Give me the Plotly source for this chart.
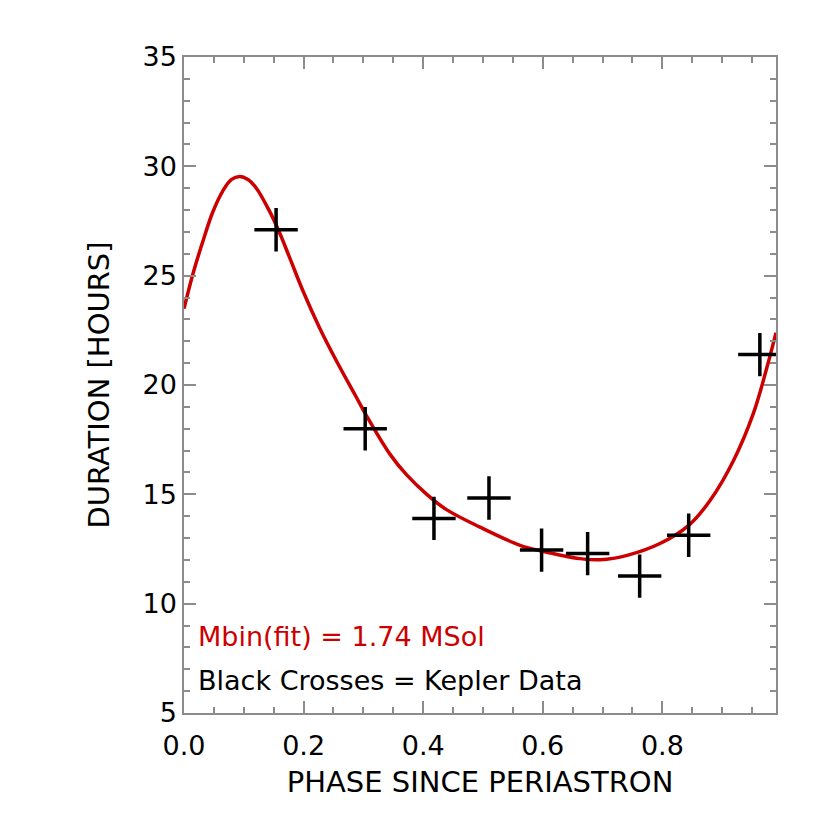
import plotly.graph_objects as go

# Kepler data points (black crosses)
phase_obs = [0.154, 0.303, 0.418, 0.510, 0.598, 0.675, 0.762, 0.844, 0.963]
dur_obs = [27.10, 18.00, 13.90, 14.83, 12.45, 12.29, 11.26, 13.13, 21.39]

# fitted curve
phase_fit = [0.000, 0.015, 0.032, 0.048, 0.065, 0.079, 0.093, 0.107, 0.121,
             0.143, 0.160, 0.177, 0.199, 0.227, 0.255, 0.288, 0.305, 0.344,
             0.372, 0.406, 0.439, 0.495, 0.562, 0.598, 0.662, 0.696, 0.741,
             0.796, 0.844, 0.880, 0.919, 0.952, 0.975, 0.990]
dur_fit = [23.49, 25.09, 26.61, 27.90, 28.88, 29.39, 29.54, 29.40, 29.00,
           27.95, 26.95, 25.80, 24.30, 22.60, 21.10, 19.45, 18.60, 16.85,
           15.90, 15.00, 14.30, 13.50, 12.67, 12.41, 12.06, 12.01, 12.21,
           12.75, 13.58, 14.73, 16.55, 18.69, 20.82, 22.39]

fit_label = "Mbin(fit) = 1.74 MSol"
data_label = "Black Crosses = Kepler Data"

RED = "#cc0000"
GREY = "#8c8c8c"
FONT = "DejaVu Sans"

fig = go.Figure()
fig.add_trace(go.Scatter(x=phase_fit, y=dur_fit, mode="lines",
                         line=dict(color=RED, width=3.5, shape="spline",
                                   smoothing=1),
                         hoverinfo="skip"))
fig.add_trace(go.Scatter(x=phase_obs, y=dur_obs, mode="markers",
                         marker=dict(symbol="cross-thin-open", size=31,
                                     color="black",
                                     line=dict(color="black", width=3.5))))

axis_common = dict(showgrid=False, zeroline=False, showline=True,
                   linecolor=GREY, linewidth=1.5, mirror="ticks",
                   ticks="inside", tickcolor=GREY, tickwidth=1.5,
                   ticklen=12,
                   tickfont=dict(family=FONT, size=27, color="black"))

fig.update_xaxes(range=[0, 0.99], dtick=0.2, tick0=0, tickformat=".1f",
                 ticklabelstandoff=8,
                 minor=dict(dtick=0.05, ticks="inside", ticklen=6,
                            tickcolor=GREY, tickwidth=1.5),
                 title=dict(text="PHASE SINCE PERIASTRON", standoff=12,
                            font=dict(family=FONT, size=29, color="black")),
                 **axis_common)
fig.update_yaxes(range=[5, 35], dtick=5, tick0=5,
                 ticklabelstandoff=0,
                 minor=dict(dtick=1, ticks="inside", ticklen=6,
                            tickcolor=GREY, tickwidth=1.5),
                 title=dict(text="DURATION [HOURS]", standoff=24,
                            font=dict(family=FONT, size=29, color="black")),
                 **axis_common)

fig.add_annotation(text=fit_label, xref="paper", yref="paper",
                   x=0.02, y=0.116, xanchor="left", yanchor="middle",
                   showarrow=False, font=dict(family=FONT, size=27, color=RED))
fig.add_annotation(text=data_label, xref="paper", yref="paper",
                   x=0.02, y=0.05, xanchor="left", yanchor="middle",
                   showarrow=False, font=dict(family=FONT, size=27, color="black"))

# page body adds an 8px offset, so margins are shifted by that much
fig.update_layout(width=830, height=830, showlegend=False,
                  plot_bgcolor="white", paper_bgcolor="white",
                  margin=dict(l=176, r=62, t=49, b=125))

fig.write_html("out.html")
